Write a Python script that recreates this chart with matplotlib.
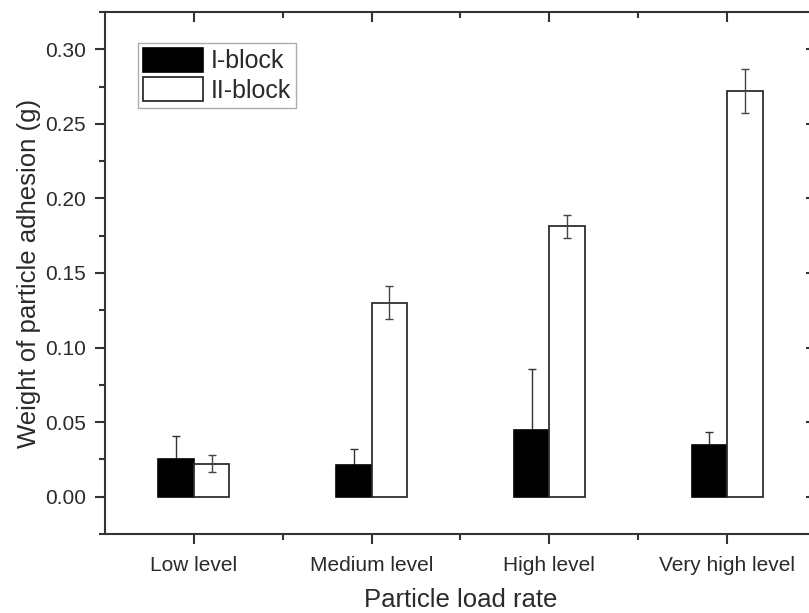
import matplotlib
matplotlib.use("Agg")
import matplotlib.pyplot as plt
import numpy as np
from matplotlib.ticker import MultipleLocator, FixedLocator

plt.rcParams['font.family'] = ['Liberation Sans', 'DejaVu Sans']

categories = ["Low level", "Medium level", "High level", "Very high level"]
i_block = [0.0254, 0.0212, 0.0449, 0.0348]
i_block_err = [0.0154, 0.0110, 0.0408, 0.0085]
ii_block = [0.0222, 0.1302, 0.1812, 0.2723]
ii_block_err = [0.0057, 0.0108, 0.0077, 0.0148]
series_names = ["I-block", "II-block"]

txt = '#2a2a2a'
fig = plt.figure(figsize=(8.09, 6.13), dpi=100)
ax = fig.add_axes([105/809, 79/613, 711/809, 522/613])

x = np.arange(len(categories))
w = 0.2
ax.bar(x - w/2, i_block, w, color='black', edgecolor='black', linewidth=1.2,
       label=series_names[0], zorder=2)
ax.bar(x + w/2, ii_block, w, color='white', edgecolor='#2e2e2e', linewidth=1.3,
       label=series_names[1], zorder=2)
ax.errorbar(x - w/2, i_block, yerr=i_block_err, fmt='none', ecolor='#333333',
            elinewidth=1.0, capsize=3, capthick=1.0, zorder=1)
ax.errorbar(x + w/2, ii_block, yerr=ii_block_err, fmt='none', ecolor='#444444',
            elinewidth=1.0, capsize=3, capthick=1.0, zorder=3)

ax.set_xlim(-0.5, 3.5)
ax.set_ylim(-0.025, 0.325)
ax.set_xticks(x)
ax.set_xticklabels(categories)
ax.xaxis.set_minor_locator(FixedLocator([0.5, 1.5, 2.5]))
ax.set_yticks(np.arange(0, 0.301, 0.05))
ax.yaxis.set_major_formatter(matplotlib.ticker.FormatStrFormatter('%.2f'))
ax.yaxis.set_minor_locator(MultipleLocator(0.025))

for s in ax.spines.values():
    s.set_linewidth(1.5)
    s.set_color('#333333')

ax.tick_params(axis='both', which='major', labelsize=15, colors='#333333',
               labelcolor=txt, width=1.5, length=7.5)
ax.tick_params(axis='both', which='minor', colors='#333333', width=1.5, length=4)
ax.tick_params(axis='x', which='both', top=True, pad=8)
ax.tick_params(axis='y', which='both', right=True, pad=6)
# top / right ticks inward
for t in ax.xaxis.get_major_ticks() + ax.xaxis.get_minor_ticks():
    t.tick2line.set_marker(3)  # TICKDOWN
for t in ax.yaxis.get_major_ticks() + ax.yaxis.get_minor_ticks():
    t.tick2line.set_marker(0)  # TICKLEFT

ax.set_xlabel("Particle load rate", fontsize=18.5, color=txt, labelpad=10)
ax.set_ylabel("Weight of particle adhesion (g)", fontsize=18.5, color=txt, labelpad=3)

leg = ax.legend(loc='upper left', bbox_to_anchor=(33/711, 1 - 31/522),
                fontsize=18, frameon=True, fancybox=False, borderpad=0.2,
                handlelength=2.4, handleheight=1.1, handletextpad=0.3,
                labelspacing=0.15, borderaxespad=0)
leg.get_frame().set_edgecolor('#999999')
leg.get_frame().set_linewidth(1.0)
for t in leg.get_texts():
    t.set_color(txt)

fig.savefig("out.png", dpi=100)
